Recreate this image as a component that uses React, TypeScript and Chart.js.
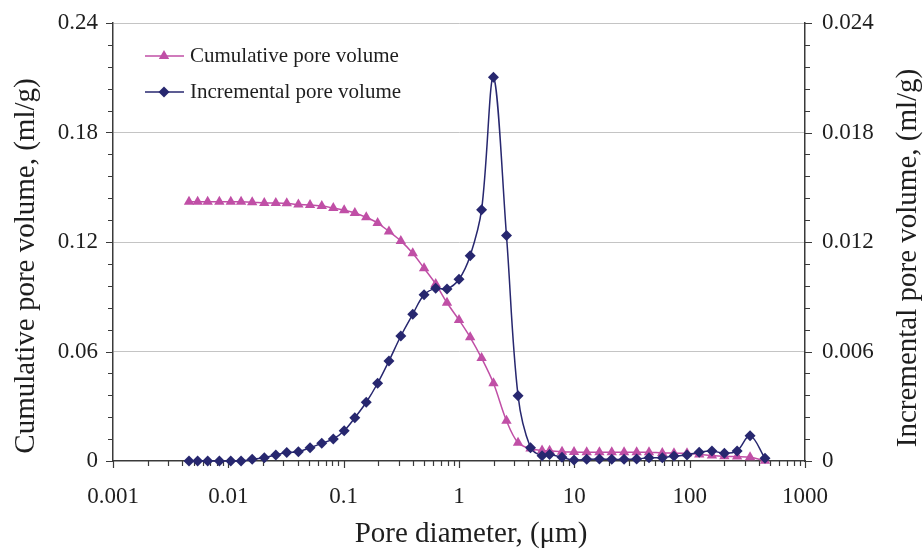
import React, { useEffect, useRef } from "react";
import { Chart, registerables } from "chart.js";

Chart.register(...registerables);

// ---- data ----
const diameters = [
  0.00456, 0.00542, 0.00662, 0.00836, 0.0105, 0.0129, 0.0161, 0.0205, 0.0258, 0.0321,
  0.0405, 0.0511, 0.0646, 0.0813, 0.101, 0.125, 0.157, 0.197, 0.247, 0.313,
  0.397, 0.498, 0.628, 0.787, 1.0, 1.25, 1.57, 1.99, 2.58, 3.25,
  4.17, 5.25, 6.1, 7.82, 9.94, 12.8, 16.5, 21.1, 27.0, 34.7,
  44.4, 57.9, 73.1, 94.8, 121, 156, 200, 258, 334, 450,
];
const cumulative = [
  0.142, 0.142, 0.142, 0.142, 0.142, 0.142, 0.1418, 0.1414, 0.1414, 0.1412,
  0.1405, 0.1403, 0.1397, 0.1386, 0.1374, 0.1359, 0.1335, 0.1304, 0.1258, 0.1206,
  0.1138, 0.1056, 0.097, 0.0867, 0.0773, 0.0678, 0.0564, 0.0426, 0.0221, 0.01,
  0.0068, 0.0058, 0.0056, 0.0051, 0.0049, 0.0048, 0.0048, 0.0048, 0.0048, 0.0048,
  0.0048, 0.0044, 0.0043, 0.0042, 0.0036, 0.003, 0.0026, 0.0024, 0.002, 0.0002,
];
const incremental = [
  0, 0, 0, 0, 0, 0, 0.00009, 0.00018, 0.00033, 0.00046,
  0.00051, 0.00073, 0.00097, 0.00121, 0.00166, 0.00237, 0.00322, 0.00426, 0.00548, 0.00685,
  0.00804, 0.00911, 0.00946, 0.00943, 0.00996, 0.01125, 0.01377, 0.02103, 0.01235, 0.00358,
  0.00073, 0.00029, 0.00036, 0.0002, 0.00005, 0.00009, 0.00011, 0.00009, 0.00009, 0.00011,
  0.00018, 0.00018, 0.00027, 0.00033, 0.00048, 0.00055, 0.00042, 0.00055, 0.00139, 0.00015,
];
const leftTicks = [0, 0.06, 0.12, 0.18, 0.24];
const leftTickLabels = ["0", "0.06", "0.12", "0.18", "0.24"];
const leftMinorStep = 0.012;
const rightTicks = [0, 0.006, 0.012, 0.018, 0.024];
const rightTickLabels = ["0", "0.006", "0.012", "0.018", "0.024"];
const rightMinorStep = 0.0012;
const xDecades = [0.001, 0.01, 0.1, 1, 10, 100, 1000];
const xTickLabels = ["0.001", "0.01", "0.1", "1", "10", "100", "1000"];
const seriesLabels = ["Cumulative pore volume", "Incremental pore volume"];
const xTitle = "Pore diameter, (\u03bcm)";
const yLeftTitle = "Cumulative pore volume, (ml/g)";
const yRightTitle = "Incremental pore volume, (ml/g)";

const FONT = "'Liberation Serif', 'Times New Roman', serif";
const CUM_COLOR = "#C04FA6";
const INC_COLOR = "#27276F";
const AXIS_COLOR = "#3a3a3a";
const TEXT_COLOR = "#1e1e1e";

const zeroPad = (s: any) => {
  s.paddingTop = 0;
  s.paddingBottom = 0;
  s.paddingLeft = 0;
  s.paddingRight = 0;
};

const extrasPlugin = {
  id: "extras",
  beforeDatasetsDraw(chart: any) {
    const ctx = chart.ctx;
    const x = chart.scales.x;
    const yl = chart.scales.yL;
    const yr = chart.scales.yR;
    const { left, right, bottom } = chart.chartArea;
    ctx.save();
    ctx.strokeStyle = AXIS_COLOR;
    ctx.lineWidth = 1.2;
    ctx.beginPath();
    for (let d = 0; d < xDecades.length; d++) {
      const base = xDecades[d];
      const px = Math.round(x.getPixelForValue(base)) + 0.5;
      ctx.moveTo(px, bottom);
      ctx.lineTo(px, bottom + 7);
      if (d < xDecades.length - 1) {
        for (let m = 2; m <= 9; m++) {
          const p = Math.round(x.getPixelForValue(base * m)) + 0.5;
          ctx.moveTo(p, bottom);
          ctx.lineTo(p, bottom + 5);
        }
      }
    }
    for (let v = 0; v <= 0.24 + 1e-9; v += leftMinorStep) {
      const py = Math.round(yl.getPixelForValue(v)) + 0.5;
      const major = Math.abs(v / 0.06 - Math.round(v / 0.06)) < 1e-6;
      ctx.moveTo(left - (major ? 7 : 5), py);
      ctx.lineTo(left, py);
    }
    for (let v = 0; v <= 0.024 + 1e-9; v += rightMinorStep) {
      const py = Math.round(yr.getPixelForValue(v)) + 0.5;
      const major = Math.abs(v / 0.006 - Math.round(v / 0.006)) < 1e-6;
      ctx.moveTo(right, py);
      ctx.lineTo(right + (major ? 7 : 5), py);
    }
    ctx.stroke();
    ctx.restore();
  },
  afterDraw(chart: any) {
    const ctx = chart.ctx;
    const { left, right } = chart.chartArea;
    ctx.save();
    ctx.fillStyle = TEXT_COLOR;
    ctx.textAlign = "center";
    ctx.textBaseline = "middle";
    ctx.font = `29px ${FONT}`;
    ctx.fillText(xTitle, (left + right) / 2 + 12, 534);
    ctx.save();
    ctx.translate(26, 266);
    ctx.rotate(-Math.PI / 2);
    ctx.fillText(yLeftTitle, 0, 0);
    ctx.restore();
    ctx.save();
    ctx.translate(908, 258);
    ctx.rotate(-Math.PI / 2);
    ctx.fillText(yRightTitle, 0, 0);
    ctx.restore();

    const rows = [
      { y: 56, color: CUM_COLOR, style: "triangle", r: 6, label: seriesLabels[0] },
      { y: 92, color: INC_COLOR, style: "rectRot", r: 5.5, label: seriesLabels[1] },
    ];
    ctx.font = `21px ${FONT}`;
    ctx.textAlign = "left";
    for (const row of rows) {
      ctx.strokeStyle = row.color;
      ctx.lineWidth = 1.5;
      ctx.beginPath();
      ctx.moveTo(145, row.y);
      ctx.lineTo(184, row.y);
      ctx.stroke();
      ctx.fillStyle = row.color;
      ctx.beginPath();
      const r = row.r;
      if (row.style === "triangle") {
        ctx.moveTo(164, row.y - r);
        ctx.lineTo(164 + r * 0.866, row.y + r / 2);
        ctx.lineTo(164 - r * 0.866, row.y + r / 2);
      } else {
        ctx.moveTo(164 - r, row.y);
        ctx.lineTo(164, row.y - r);
        ctx.lineTo(164 + r, row.y);
        ctx.lineTo(164, row.y + r);
      }
      ctx.closePath();
      ctx.fill();
      ctx.fillStyle = TEXT_COLOR;
      ctx.fillText(row.label, 190, row.y);
    }
    ctx.restore();
  },
};

export default function App() {
  const canvasRef = useRef<HTMLCanvasElement | null>(null);

  useEffect(() => {
    document.body.style.margin = "0";
    const canvas = canvasRef.current;
    if (!canvas) return;
    const tickFont = { family: FONT, size: 23 };
    const chart = new Chart(canvas, {
      type: "line",
      data: {
        datasets: [
          {
            label: seriesLabels[0],
            data: diameters.map((d, i) => ({ x: d, y: cumulative[i] })),
            yAxisID: "yL",
            borderColor: CUM_COLOR,
            backgroundColor: CUM_COLOR,
            borderWidth: 1.5,
            pointStyle: "triangle",
            pointRadius: 6,
            pointBorderWidth: 0,
            pointBackgroundColor: CUM_COLOR,
            tension: 0.35,
            clip: false,
            order: 1,
          },
          {
            label: seriesLabels[1],
            data: diameters.map((d, i) => ({ x: d, y: incremental[i] })),
            yAxisID: "yR",
            borderColor: INC_COLOR,
            backgroundColor: INC_COLOR,
            borderWidth: 1.5,
            pointStyle: "rectRot",
            pointRadius: 5.5,
            pointBorderWidth: 0,
            pointBackgroundColor: INC_COLOR,
            tension: 0.35,
            clip: false,
            order: 0,
          },
        ],
      },
      options: {
        animation: false,
        responsive: false,
        maintainAspectRatio: false,
        layout: { padding: { top: 23, left: 0, right: 0, bottom: 0 } },
        plugins: { legend: { display: false }, tooltip: { enabled: false } },
        scales: {
          x: {
            type: "logarithmic",
            position: "bottom",
            min: 0.001,
            max: 1000,
            afterBuildTicks: (s: any) => {
              s.ticks = xDecades.map((v) => ({ value: v }));
            },
            afterFit: (s: any) => {
              s.height = 88;
              zeroPad(s);
            },
            grid: { display: false, drawTicks: false },
            border: { display: true, color: AXIS_COLOR, width: 1.5 },
            ticks: {
              autoSkip: false,
              maxRotation: 0,
              padding: 22,
              color: TEXT_COLOR,
              font: tickFont,
              callback: (_v: any, i: number) => xTickLabels[i],
            },
          },
          yL: {
            type: "linear",
            position: "left",
            min: 0,
            max: 0.24,
            afterBuildTicks: (s: any) => {
              s.ticks = leftTicks.map((v) => ({ value: v }));
            },
            afterFit: (s: any) => {
              s.width = 113;
              zeroPad(s);
            },
            grid: {
              drawTicks: false,
              color: "#C4C4C4",
              lineWidth: (c: any) => (c.tick && c.tick.value === 0 ? 0 : 1),
            },
            border: { display: true, color: AXIS_COLOR, width: 1.5 },
            ticks: {
              padding: 15,
              color: TEXT_COLOR,
              font: tickFont,
              callback: (_v: any, i: number) => leftTickLabels[i],
            },
          },
          yR: {
            type: "linear",
            position: "right",
            min: 0,
            max: 0.024,
            afterBuildTicks: (s: any) => {
              s.ticks = rightTicks.map((v) => ({ value: v }));
            },
            afterFit: (s: any) => {
              s.width = 118;
              zeroPad(s);
            },
            grid: { display: false, drawTicks: false },
            border: { display: true, color: AXIS_COLOR, width: 1.5 },
            ticks: {
              padding: 17,
              color: TEXT_COLOR,
              font: tickFont,
              callback: (_v: any, i: number) => rightTickLabels[i],
            },
          },
        },
      },
      plugins: [extrasPlugin],
    } as any);
    return () => chart.destroy();
  }, []);

  return (
    <div style={{ width: 923, height: 549, background: "#fff" }}>
      <canvas ref={canvasRef} width={923} height={549} style={{ display: "block" }} />
    </div>
  );
}
